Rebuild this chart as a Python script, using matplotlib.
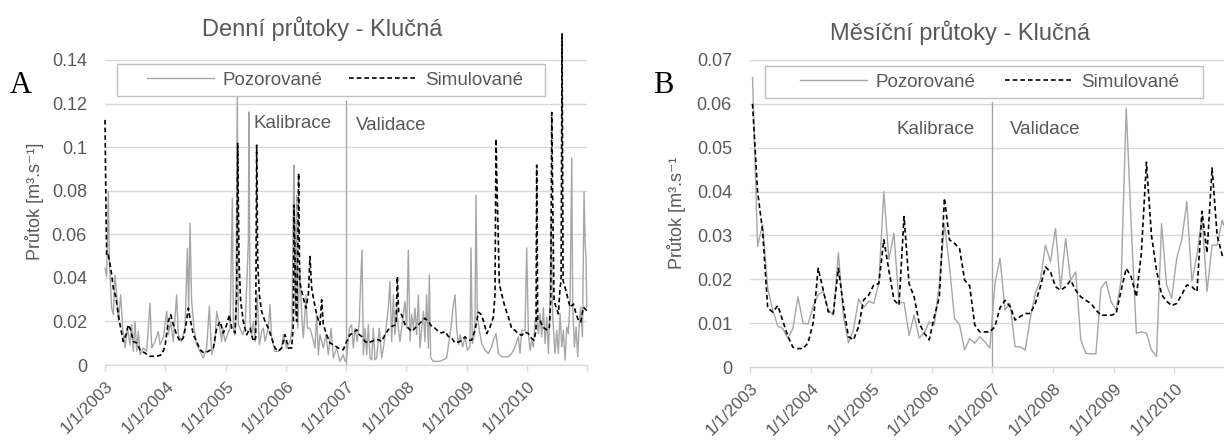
import numpy as np
import matplotlib
matplotlib.use('Agg')
import matplotlib.pyplot as plt
from matplotlib.patches import Rectangle
from matplotlib.transforms import ScaledTranslation

# daily discharge, Klucna (time in decimal years)
a_obs_t = [2003.000, 2003.028, 2003.055, 2003.072, 2003.111, 2003.138, 2003.166, 2003.194,
           2003.221, 2003.260, 2003.293, 2003.332, 2003.371, 2003.415, 2003.443, 2003.470,
           2003.498, 2003.526, 2003.553, 2003.581, 2003.636, 2003.692, 2003.747, 2003.775,
           2003.830, 2003.885, 2003.913, 2003.968, 2004.024, 2004.051, 2004.090, 2004.134,
           2004.189, 2004.217, 2004.272, 2004.328, 2004.367, 2004.389, 2004.411, 2004.438,
           2004.477, 2004.521, 2004.577, 2004.632, 2004.687, 2004.732, 2004.770, 2004.826,
           2004.853, 2004.898, 2004.936, 2004.953, 2004.992, 2005.031, 2005.075, 2005.114,
           2005.131, 2005.158, 2005.174, 2005.196, 2005.213, 2005.241, 2005.285, 2005.324,
           2005.351, 2005.379, 2005.390, 2005.407, 2005.434, 2005.462, 2005.490, 2005.528,
           2005.562, 2005.600, 2005.628, 2005.656, 2005.711, 2005.739, 2005.766, 2005.822,
           2005.877, 2005.932, 2005.960, 2006.015, 2006.071, 2006.104, 2006.126, 2006.137,
           2006.159, 2006.181, 2006.198, 2006.236, 2006.264, 2006.292, 2006.336, 2006.358,
           2006.402, 2006.447, 2006.485, 2006.513, 2006.541, 2006.568, 2006.624, 2006.668,
           2006.707, 2006.751, 2006.790, 2006.845, 2006.900, 2006.955, 2006.983, 2007.011,
           2007.055, 2007.094, 2007.122, 2007.149, 2007.188, 2007.221, 2007.243, 2007.266,
           2007.288, 2007.315, 2007.343, 2007.371, 2007.398, 2007.426, 2007.454, 2007.481,
           2007.509, 2007.553, 2007.592, 2007.620, 2007.664, 2007.703, 2007.730, 2007.758,
           2007.786, 2007.813, 2007.841, 2007.869, 2007.896, 2007.924, 2007.951, 2007.979,
           2008.007, 2008.035, 2008.062, 2008.090, 2008.118, 2008.145, 2008.173, 2008.201,
           2008.228, 2008.256, 2008.284, 2008.311, 2008.339, 2008.367, 2008.383, 2008.405,
           2008.450, 2008.505, 2008.560, 2008.616, 2008.671, 2008.726, 2008.754, 2008.782,
           2008.809, 2008.837, 2008.865, 2008.893, 2008.936, 2008.975, 2009.014, 2009.058,
           2009.075, 2009.097, 2009.125, 2009.141, 2009.158, 2009.180, 2009.213, 2009.252,
           2009.307, 2009.363, 2009.418, 2009.446, 2009.490, 2009.529, 2009.584, 2009.639,
           2009.695, 2009.750, 2009.805, 2009.861, 2009.888, 2009.916, 2009.971, 2009.999,
           2010.027, 2010.055, 2010.083, 2010.110, 2010.138, 2010.165, 2010.193, 2010.221,
           2010.248, 2010.276, 2010.304, 2010.332, 2010.359, 2010.387, 2010.404, 2010.431,
           2010.470, 2010.498, 2010.525, 2010.553, 2010.581, 2010.608, 2010.636, 2010.664,
           2010.691, 2010.719, 2010.747, 2010.763, 2010.791, 2010.819, 2010.846, 2010.874,
           2010.896, 2010.924, 2010.951, 2010.968, 2010.985, 2010.997]
a_obs_q = [0.0444, 0.0406, 0.0796, 0.0475, 0.0261, 0.0231, 0.0414, 0.0322,
           0.0200, 0.0322, 0.0169, 0.0078, 0.0169, 0.0093, 0.0185, 0.0063,
           0.0200, 0.0063, 0.0154, 0.0047, 0.0078, 0.0063, 0.0284, 0.0078,
           0.0108, 0.0154, 0.0093, 0.0124, 0.0246, 0.0139, 0.0200, 0.0108,
           0.0322, 0.0139, 0.0108, 0.0169, 0.0536, 0.0246, 0.0650, 0.0292,
           0.0169, 0.0093, 0.0063, 0.0032, 0.0078, 0.0269, 0.0047, 0.0108,
           0.0246, 0.0185, 0.0108, 0.0169, 0.0108, 0.0139, 0.0169, 0.0765,
           0.0169, 0.0139, 0.0246, 0.1260, 0.0185, 0.0169, 0.0139, 0.0169,
           0.0353, 0.0567, 0.1162, 0.0200, 0.0139, 0.0200, 0.0108, 0.0322,
           0.0093, 0.0154, 0.0169, 0.0108, 0.0169, 0.0276, 0.0124, 0.0063,
           0.0063, 0.0078, 0.0139, 0.0078, 0.0108, 0.0169, 0.0734, 0.0918,
           0.0231, 0.0780, 0.0169, 0.0444, 0.0231, 0.0124, 0.0322, 0.0169,
           0.0169, 0.0124, 0.0078, 0.0231, 0.0047, 0.0139, 0.0078, 0.0139,
           0.0047, 0.0169, 0.0032, 0.0078, 0.0017, 0.0047, 0.0017, 0.0032,
           0.0169, 0.0185, 0.0078, 0.0169, 0.0108, 0.0200, 0.0383, 0.0528,
           0.0047, 0.0169, 0.0047, 0.0185, 0.0032, 0.0024, 0.0169, 0.0024,
           0.0032, 0.0169, 0.0032, 0.0078, 0.0169, 0.0261, 0.0383, 0.0108,
           0.0322, 0.0139, 0.0261, 0.0169, 0.0108, 0.0169, 0.0231, 0.0292,
           0.0169, 0.0528, 0.0108, 0.0231, 0.0169, 0.0261, 0.0139, 0.0322,
           0.0078, 0.0169, 0.0246, 0.0108, 0.0322, 0.0078, 0.0414, 0.0032,
           0.0017, 0.0017, 0.0017, 0.0024, 0.0032, 0.0139, 0.0200, 0.0276,
           0.0322, 0.0169, 0.0093, 0.0139, 0.0083, 0.0129, 0.0068, 0.0083,
           0.0538, 0.0098, 0.0129, 0.0205, 0.0780, 0.0220, 0.0159, 0.0098,
           0.0068, 0.0053, 0.0083, 0.0114, 0.0144, 0.0053, 0.0038, 0.0038,
           0.0038, 0.0053, 0.0083, 0.0129, 0.0053, 0.0159, 0.0159, 0.0538,
           0.0144, 0.0068, 0.0114, 0.0083, 0.0205, 0.0220, 0.0144, 0.0235,
           0.0129, 0.0265, 0.0098, 0.0220, 0.0053, 0.0295, 0.0674, 0.0220,
           0.0053, 0.0159, 0.0053, 0.0235, 0.0083, 0.0159, 0.0023, 0.0174,
           0.0144, 0.0295, 0.0950, 0.0265, 0.0083, 0.0174, 0.0038, 0.0205,
           0.0265, 0.0129, 0.0795, 0.0568, 0.0477, 0.0265]

a_sim_t = [2003.000, 2003.017, 2003.028, 2003.055, 2003.083, 2003.111, 2003.138, 2003.183,
           2003.221, 2003.260, 2003.304, 2003.349, 2003.387, 2003.426, 2003.470, 2003.526,
           2003.581, 2003.664, 2003.747, 2003.858, 2003.941, 2003.996, 2004.051, 2004.090,
           2004.134, 2004.189, 2004.245, 2004.300, 2004.344, 2004.383, 2004.411, 2004.466,
           2004.521, 2004.577, 2004.643, 2004.715, 2004.798, 2004.853, 2004.909, 2004.964,
           2005.020, 2005.064, 2005.103, 2005.158, 2005.185, 2005.202, 2005.224, 2005.252,
           2005.296, 2005.351, 2005.407, 2005.462, 2005.501, 2005.517, 2005.534, 2005.562,
           2005.600, 2005.656, 2005.711, 2005.766, 2005.822, 2005.877, 2005.932, 2005.988,
           2006.043, 2006.098, 2006.126, 2006.137, 2006.165, 2006.181, 2006.198, 2006.214,
           2006.231, 2006.253, 2006.292, 2006.336, 2006.375, 2006.402, 2006.430, 2006.469,
           2006.513, 2006.568, 2006.596, 2006.624, 2006.679, 2006.734, 2006.790, 2006.873,
           2006.955, 2007.011, 2007.066, 2007.122, 2007.177, 2007.221, 2007.260, 2007.315,
           2007.371, 2007.426, 2007.481, 2007.537, 2007.592, 2007.647, 2007.703, 2007.758,
           2007.830, 2007.852, 2007.874, 2007.924, 2007.979, 2008.035, 2008.090, 2008.145,
           2008.201, 2008.256, 2008.311, 2008.367, 2008.422, 2008.477, 2008.533, 2008.588,
           2008.643, 2008.699, 2008.754, 2008.809, 2008.893, 2008.975, 2009.031, 2009.086,
           2009.141, 2009.197, 2009.235, 2009.280, 2009.335, 2009.390, 2009.446, 2009.473,
           2009.490, 2009.501, 2009.529, 2009.545, 2009.584, 2009.639, 2009.695, 2009.750,
           2009.805, 2009.861, 2009.916, 2009.971, 2010.027, 2010.083, 2010.121, 2010.154,
           2010.165, 2010.182, 2010.221, 2010.265, 2010.304, 2010.343, 2010.376, 2010.398,
           2010.415, 2010.431, 2010.453, 2010.487, 2010.525, 2010.553, 2010.570, 2010.586,
           2010.603, 2010.636, 2010.664, 2010.719, 2010.774, 2010.819, 2010.857, 2010.896,
           2010.940, 2010.968, 2010.996]
a_sim_q = [0.1125, 0.0700, 0.0500, 0.0505, 0.0464, 0.0414, 0.0353, 0.0307,
           0.0231, 0.0169, 0.0108, 0.0139, 0.0185, 0.0162, 0.0108, 0.0101,
           0.0070, 0.0055, 0.0040, 0.0040, 0.0047, 0.0086, 0.0200, 0.0231,
           0.0185, 0.0139, 0.0108, 0.0124, 0.0185, 0.0261, 0.0215, 0.0139,
           0.0108, 0.0070, 0.0055, 0.0063, 0.0078, 0.0169, 0.0200, 0.0147,
           0.0185, 0.0231, 0.0169, 0.0147, 0.0322, 0.1017, 0.0475, 0.0292,
           0.0200, 0.0139, 0.0169, 0.0108, 0.0124, 0.1009, 0.0475, 0.0322,
           0.0246, 0.0200, 0.0169, 0.0124, 0.0078, 0.0063, 0.0078, 0.0139,
           0.0078, 0.0078, 0.0185, 0.0734, 0.0322, 0.0200, 0.0475, 0.0880,
           0.0383, 0.0353, 0.0307, 0.0261, 0.0322, 0.0498, 0.0353, 0.0292,
           0.0231, 0.0185, 0.0299, 0.0185, 0.0139, 0.0101, 0.0093, 0.0078,
           0.0070, 0.0108, 0.0139, 0.0147, 0.0162, 0.0139, 0.0131, 0.0108,
           0.0101, 0.0108, 0.0116, 0.0116, 0.0108, 0.0139, 0.0162, 0.0177,
           0.0185, 0.0406, 0.0238, 0.0231, 0.0185, 0.0169, 0.0154, 0.0169,
           0.0185, 0.0200, 0.0215, 0.0200, 0.0177, 0.0169, 0.0154, 0.0147,
           0.0154, 0.0131, 0.0124, 0.0101, 0.0108, 0.0129, 0.0114, 0.0114,
           0.0159, 0.0242, 0.0235, 0.0205, 0.0144, 0.0174, 0.0220, 0.0326,
           0.1038, 0.0886, 0.0568, 0.0371, 0.0326, 0.0265, 0.0220, 0.0167,
           0.0159, 0.0144, 0.0136, 0.0152, 0.0144, 0.0121, 0.0114, 0.0159,
           0.0917, 0.0205, 0.0205, 0.0174, 0.0167, 0.0159, 0.0174, 0.0295,
           0.1159, 0.0750, 0.0295, 0.0265, 0.0235, 0.0356, 0.0386, 0.1520,
           0.0386, 0.0356, 0.0326, 0.0265, 0.0280, 0.0235, 0.0205, 0.0197,
           0.0265, 0.0258, 0.0250]

# monthly discharge, Jan 2003 - Dec 2010
b_obs = [0.0660, 0.0275, 0.0325, 0.0180, 0.0130, 0.0093, 0.0088, 0.0065, 0.0088, 0.0160, 0.0100, 0.0098,
         0.0138, 0.0165, 0.0172, 0.0130, 0.0118, 0.0260, 0.0115, 0.0055, 0.0085, 0.0155, 0.0135, 0.0150,
         0.0145, 0.0190, 0.0400, 0.0245, 0.0305, 0.0147, 0.0147, 0.0072, 0.0118, 0.0066, 0.0078, 0.0103,
         0.0096, 0.0190, 0.0327, 0.0229, 0.0111, 0.0096, 0.0039, 0.0065, 0.0054, 0.0069, 0.0058, 0.0043,
         0.0190, 0.0248, 0.0130, 0.0145, 0.0046, 0.0046, 0.0039, 0.0110, 0.0168, 0.0198, 0.0278, 0.0240,
         0.0316, 0.0180, 0.0293, 0.0198, 0.0217, 0.0062, 0.0031, 0.0030, 0.0030, 0.0180, 0.0195, 0.0149,
         0.0130, 0.0198, 0.0590, 0.0320, 0.0077, 0.0080, 0.0077, 0.0039, 0.0024, 0.0327, 0.0187, 0.0157,
         0.0248, 0.0290, 0.0377, 0.0195, 0.0255, 0.0343, 0.0172, 0.0278, 0.0278, 0.0335, 0.0300, 0.0280]
b_sim = [0.0600, 0.0400, 0.0310, 0.0135, 0.0125, 0.0140, 0.0105, 0.0070, 0.0045, 0.0042, 0.0042, 0.0055,
         0.0100, 0.0225, 0.0175, 0.0126, 0.0122, 0.0225, 0.0138, 0.0069, 0.0062, 0.0092, 0.0153, 0.0164,
         0.0187, 0.0190, 0.0290, 0.0221, 0.0153, 0.0141, 0.0343, 0.0190, 0.0160, 0.0100, 0.0077, 0.0062,
         0.0115, 0.0160, 0.0385, 0.0290, 0.0282, 0.0270, 0.0198, 0.0185, 0.0096, 0.0080, 0.0080, 0.0080,
         0.0092, 0.0135, 0.0152, 0.0138, 0.0107, 0.0115, 0.0122, 0.0122, 0.0145, 0.0183, 0.0228, 0.0217,
         0.0183, 0.0175, 0.0183, 0.0198, 0.0175, 0.0160, 0.0152, 0.0145, 0.0130, 0.0118, 0.0118, 0.0118,
         0.0122, 0.0175, 0.0225, 0.0205, 0.0160, 0.0260, 0.0467, 0.0300, 0.0220, 0.0165, 0.0150, 0.0140,
         0.0145, 0.0165, 0.0187, 0.0183, 0.0172, 0.0355, 0.0260, 0.0454, 0.0300, 0.0255, 0.0240, 0.0250]

years = list(range(2003, 2012))
year_labels = ['1/1/%d' % y for y in range(2003, 2011)] + ['']
split_year = 2007.0
a_yticks = [0, 0.02, 0.04, 0.06, 0.08, 0.1, 0.12, 0.14]
b_yticks = [0, 0.01, 0.02, 0.03, 0.04, 0.05, 0.06, 0.07]

TEXT = '#595959'
GRID = '#d9d9d9'
OBS = '#a6a6a6'
FS = 13

plt.rcParams['font.family'] = ['Liberation Sans', 'DejaVu Sans']

fig = plt.figure(figsize=(12.24, 4.40), dpi=100)
W, H = 1224.0, 440.0


def style_axes(ax, yticks, ylim):
    ax.set_xlim(2003, 2011)
    ax.set_ylim(0, ylim)
    for s in ['left', 'right', 'top']:
        ax.spines[s].set_visible(False)
    ax.spines['bottom'].set_color(GRID)
    ax.spines['bottom'].set_linewidth(1.0)
    ax.set_yticks(yticks)
    ax.set_yticklabels(['%g' % v for v in yticks])
    ax.set_xticks(years)
    ax.set_xticklabels(year_labels)
    ax.tick_params(axis='y', length=0, pad=13, labelsize=FS, labelcolor=TEXT)
    ax.tick_params(axis='x', length=4, width=1, color=GRID, pad=9.5,
                   labelsize=12.3, labelcolor=TEXT)
    # date labels hang at 45 degrees from their right end
    shift = ScaledTranslation(6 / 100, 0, fig.dpi_scale_trans)
    for lab in ax.get_xticklabels():
        lab.set_rotation(45)
        lab.set_rotation_mode('anchor')
        lab.set_ha('right')
        lab.set_va('center')
        lab.set_transform(lab.get_transform() + shift)
    ax.yaxis.grid(True, color=GRID, linewidth=1.0)
    ax.set_axisbelow(True)


def add_legend(ax, frame, slot):
    # white framed box behind a frameless legend spread over its slot
    ax.add_patch(Rectangle(frame[:2], frame[2], frame[3], transform=ax.transAxes,
                           facecolor='white', edgecolor='#bfbfbf', lw=1.0,
                           clip_on=False, zorder=9))
    leg = ax.legend(loc='center', bbox_to_anchor=slot, mode='expand', ncol=2,
                    fontsize=FS + 0.5, labelcolor=TEXT, frameon=False,
                    handlelength=3.55, handletextpad=0.5, borderpad=0, borderaxespad=0)
    leg.set_zorder(10)
    return leg


# --- A: daily flows
ax1 = fig.add_axes([105 / W, 1 - 365 / H, 482 / W, 305 / H])
style_axes(ax1, a_yticks, 0.14)
ax1.plot([split_year, split_year], [0, 0.121], color=OBS, lw=1.0, clip_on=False)
ax1.plot(a_obs_t, a_obs_q, color=OBS, lw=1.0, label='Pozorované', clip_on=False)
ax1.plot(a_sim_t, a_sim_q, color='black', lw=1.2, ls=(0, (2.8, 1.8)),
         label='Simulované', clip_on=False)
ax1.text(2005.46, 0.111, 'Kalibrace', fontsize=FS + 0.5, color=TEXT, va='center', ha='left')
ax1.text(2007.17, 0.110, 'Validace', fontsize=FS + 0.5, color=TEXT, va='center', ha='left')
add_legend(ax1,
           ((117 - 105) / 482, (365 - 96) / 305, 428 / 482, 32 / 305),
           ((147 - 105) / 482, (365 - 96) / 305, 376 / 482, 32 / 305))

# --- B: monthly flows
b_t = 2003 + (np.arange(len(b_obs)) + 0.5) / 12
ax2 = fig.add_axes([750 / W, 1 - 367 / H, 484.8 / W, 307 / H])
style_axes(ax2, b_yticks, 0.07)
ax2.plot([split_year, split_year], [0, 0.0605], color=OBS, lw=1.0)
ax2.plot(b_t, b_obs, color=OBS, lw=1.0, label='Pozorované')
ax2.plot(b_t, b_sim, color='black', lw=1.2, ls=(0, (2.8, 1.8)), label='Simulované')
ax2.text(2005.41, 0.0541, 'Kalibrace', fontsize=FS + 0.5, color=TEXT, va='center', ha='left')
ax2.text(2007.29, 0.0541, 'Validace', fontsize=FS + 0.5, color=TEXT, va='center', ha='left')
add_legend(ax2,
           ((765 - 750) / 484.8, (367 - 98) / 307, 438 / 484.8, 32 / 307),
           ((800 - 750) / 484.8, (367 - 98) / 307, 379 / 484.8, 32 / 307))

# titles, axis labels and panel letters
fig.text(322 / W, 1 - 29 / H, 'Denní průtoky - Klučná', fontsize=17, color=TEXT,
         ha='center', va='center')
fig.text(960 / W, 1 - 33 / H, 'Měsíční průtoky - Klučná', fontsize=17, color=TEXT,
         ha='center', va='center')
fig.text(35 / W, 1 - 201 / H, 'Průtok [m³.s⁻¹]', fontsize=FS, color=TEXT,
         rotation=90, ha='center', va='center')
fig.text(676 / W, 1 - 213 / H, 'Průtok [m³.s⁻¹', fontsize=FS, color=TEXT,
         rotation=90, ha='center', va='center')
fig.text(10 / W, 1 - 93 / H, 'A', fontsize=22, family='Liberation Serif', color='black',
         ha='left', va='baseline')
fig.text(653 / W, 1 - 93 / H, 'B', fontsize=22, family='Liberation Serif', color='black',
         ha='left', va='baseline')

fig.savefig('out.png', dpi=100)
